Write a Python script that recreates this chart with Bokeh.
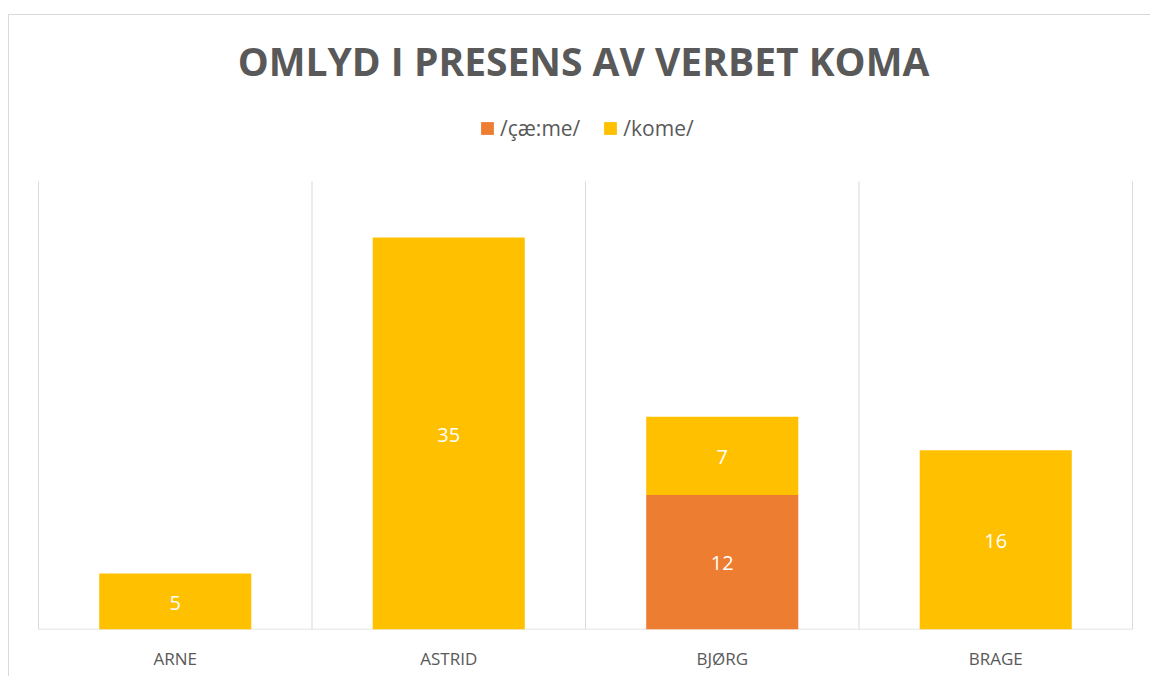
from bokeh.plotting import figure
from bokeh.models import ColumnDataSource, FixedTicker, Label, Legend, LegendItem
from bokeh.core.properties import value
from bokeh.embed import file_html
from bokeh.resources import INLINE

categories = ["ARNE", "ASTRID", "BJØRG", "BRAGE"]
caeme = [0, 0, 12, 0]
kome = [5, 35, 7, 16]
series_names = ["/çæ:me/", "/kome/"]
title_text = "OMLYD I PRESENS AV VERBET KOMA"

ORANGE = "#ED7D31"
YELLOW = "#FFC000"
GRAY = "#595959"
GRID = "#D9D9D9"
FONT = "Open Sans"

# layout (pixels, relative to the canvas)
W, H = 1142, 662
PLOT_LEFT, PLOT_RIGHT = 29, 1123      # category area
PLOT_TOP, PLOT_BOTTOM = 166, 614      # value area (0..YMAX)
FRAME_PAD_X = 8
YMAX = 40

n = len(categories)
ppx = (PLOT_RIGHT - PLOT_LEFT) / n
ppy = (PLOT_BOTTOM - PLOT_TOP) / YMAX
x_start = -FRAME_PAD_X / ppx
x_end = n + FRAME_PAD_X / ppx
y_end = YMAX + PLOT_TOP / ppy

xs = [i + 0.5 for i in range(n)]
src = ColumnDataSource(dict(x=xs, caeme=caeme, kome=kome))

p = figure(width=W, height=H, x_range=(x_start, x_end), y_range=(0, y_end),
           output_backend="svg", toolbar_location=None,
           min_border_left=PLOT_LEFT - FRAME_PAD_X,
           min_border_right=W - PLOT_RIGHT - FRAME_PAD_X,
           min_border_top=0, min_border_bottom=H - PLOT_BOTTOM,
           margin=(14, 0, 0, 8),
           styles={"border-top": "1px solid #d9d9d9", "border-left": "1px solid #d9d9d9"})
p.outline_line_color = None
p.background_fill_color = "white"
p.border_fill_color = "white"

# category gridlines and baseline
bounds = list(range(n + 1))
p.segment(x0=bounds, y0=[0] * len(bounds), x1=bounds, y1=[YMAX] * len(bounds),
          line_color=GRID, line_width=1)
p.segment(x0=[0], y0=[0], x1=[n], y1=[0], line_color=GRID, line_width=1.5)

rs = p.vbar_stack(["caeme", "kome"], x="x", width=0.556, color=[ORANGE, YELLOW],
                  line_color=None, source=src)

# data labels
lx, ly, lt = [], [], []
for i, x in enumerate(xs):
    bottom = 0
    for vals in (caeme, kome):
        v = vals[i]
        if v > 0:
            lx.append(x)
            ly.append(bottom + v / 2)
            lt.append(str(v))
        bottom += v
p.text(x=lx, y=ly, text=lt, text_align="center", text_baseline="middle", y_offset=1,
       text_color="white", text_font_size="20px", text_font=value(FONT))

# axes
p.yaxis.visible = False
p.ygrid.visible = False
p.xgrid.visible = False
p.xaxis.ticker = FixedTicker(ticks=xs)
p.xaxis.major_label_overrides = {x: c for x, c in zip(xs, categories)}
p.xaxis.axis_line_color = None
p.xaxis.major_tick_line_color = None
p.xaxis.minor_tick_line_color = None
p.xaxis.major_label_text_font_size = "17px"
p.xaxis.major_label_text_color = GRAY
p.xaxis.major_label_text_font = FONT
p.xaxis.major_label_standoff = 11

# legend (screen position relative to frame bottom-left)
legend = Legend(items=[LegendItem(label=series_names[0], renderers=[rs[0]]),
                       LegendItem(label=series_names[1], renderers=[rs[1]])],
                orientation="horizontal", location=(449, 487),
                label_text_font_size="21px", label_text_color=GRAY, label_text_font=FONT,
                glyph_width=16, glyph_height=16, label_standoff=5, spacing=22,
                padding=0, margin=0, border_line_color=None, background_fill_alpha=0)
p.add_layout(legend, "center")

TITLE_Y = 45  # px from canvas top
title = Label(x=n / 2, y=y_end - TITLE_Y / ppy, x_offset=-2, text=title_text,
              text_align="center", text_baseline="middle", text_font_size="39px",
              text_font_style="bold", text_color=GRAY, text_font=FONT)
p.add_layout(title)

open("out.html", "w").write(file_html(p, INLINE))
